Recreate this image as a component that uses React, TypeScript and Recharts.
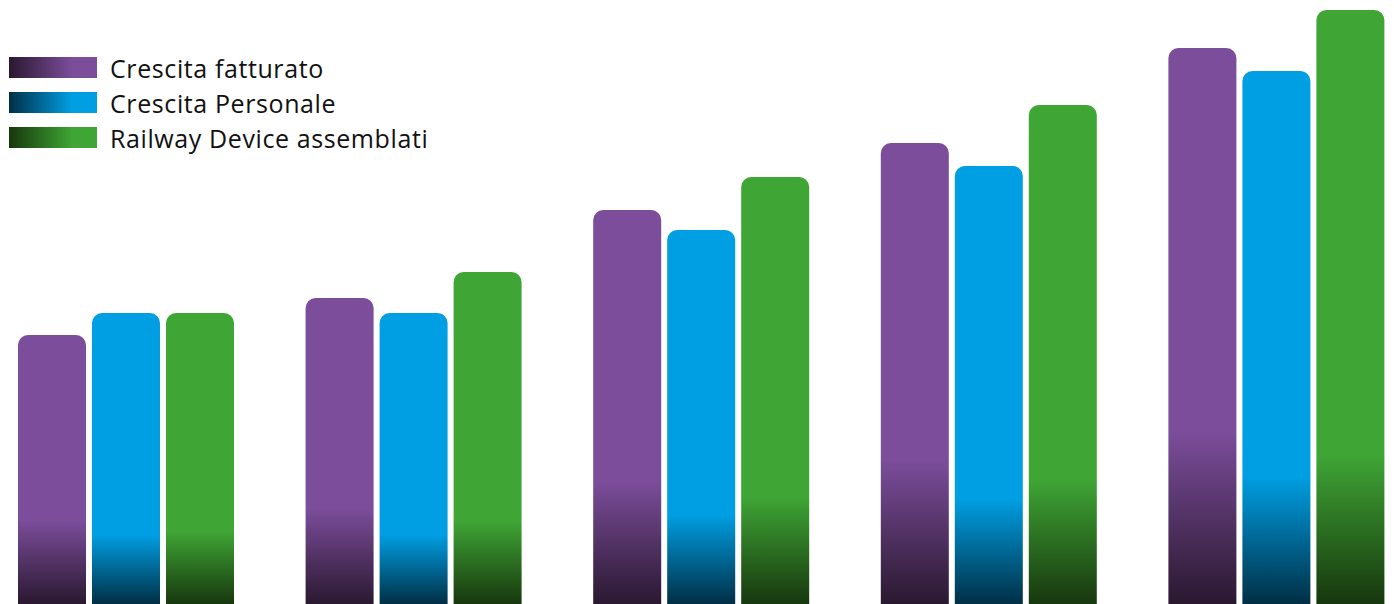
import React from "react"
import { BarChart, Bar, XAxis, YAxis } from "recharts"

const years = ["1", "2", "3", "4", "5"]
const fatturato = [269, 306, 394, 461, 556]
const personale = [291, 291, 374, 438, 533]
const device = [291, 332, 427, 499, 594]

const series = [
  { key: "fatturato", name: "Crescita fatturato", light: "#7b4d9a", dark: "#2a1830", stop: 0.69 },
  { key: "personale", name: "Crescita Personale", light: "#009fe3", dark: "#002f45", stop: 0.76 },
  { key: "device", name: "Railway Device assemblati", light: "#3fa535", dark: "#17370e", stop: 0.75 },
]

const data = years.map((y, i) => ({
  year: y,
  fatturato: fatturato[i],
  personale: personale[i],
  device: device[i],
}))

// legend drawn as plain html so it doesn't eat into the plot area
function LegendBox() {
  return (
    <div style={{ position: "absolute", left: 9, top: 57, display: "flex", flexDirection: "column", gap: 14 }}>
      {series.map((s) => (
        <div key={s.key} style={{ display: "flex", alignItems: "center", height: 21 }}>
          <div
            style={{
              width: 88,
              height: 21,
              background: `linear-gradient(to right, ${s.dark} 0%, ${s.light} 72%, ${s.light} 100%)`,
            }}
          />
          <span
            style={{
              marginLeft: 13,
              fontFamily: "'Open Sans', sans-serif",
              fontSize: 25,
              color: "#111",
              whiteSpace: "nowrap",
              letterSpacing: 0.6,
            }}
          >
            {s.name}
          </span>
        </div>
      ))}
    </div>
  )
}

export default function App() {
  return (
    <div
      style={{
        position: "fixed",
        left: 0,
        top: 0,
        width: 1394,
        height: 604,
        overflow: "hidden",
        background: "#fff",
      }}
    >
      <div style={{ position: "absolute", left: -18, top: 0 }}>
        <BarChart
          width={1438}
          height={604}
          data={data}
          margin={{ top: 4, right: 0, bottom: 0, left: 0 }}
          barSize={68}
          barGap={6}
        >
          <defs>
            {series.map((s) => (
              <linearGradient key={s.key} id={`grad-${s.key}`} x1="0" y1="0" x2="0" y2="1">
                <stop offset="0%" stopColor={s.light} />
                <stop offset={`${s.stop * 100}%`} stopColor={s.light} />
                <stop offset="100%" stopColor={s.dark} />
              </linearGradient>
            ))}
          </defs>
          <XAxis dataKey="year" hide />
          <YAxis hide domain={[0, 600]} />
          {series.map((s) => (
            <Bar
              key={s.key}
              dataKey={s.key}
              name={s.name}
              fill={`url(#grad-${s.key})`}
              radius={[10, 10, 0, 0]}
              isAnimationActive={false}
            />
          ))}
        </BarChart>
      </div>
      <LegendBox />
    </div>
  )
}
